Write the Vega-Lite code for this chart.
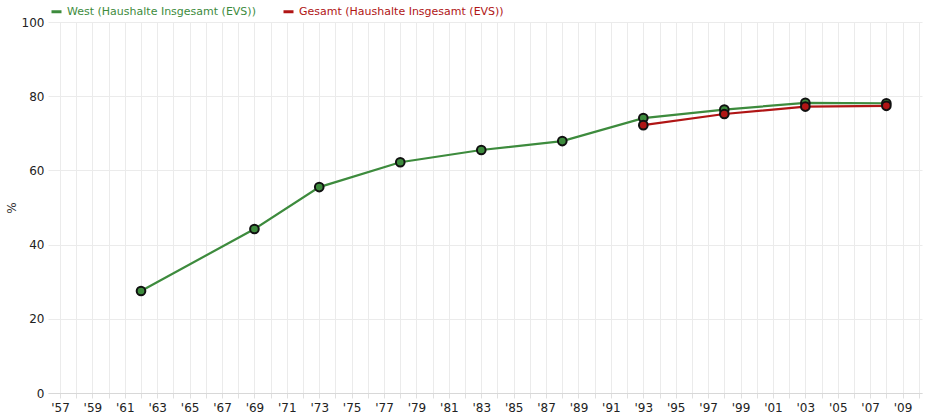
{
  "$schema": "https://vega.github.io/schema/vega-lite/v6.json",
  "autosize": "none",
  "width": 874,
  "height": 371,
  "padding": {"left": 48, "top": 22, "right": 12, "bottom": 22},
  "background": "white",
  "config": {
    "font": "DejaVu Sans",
    "view": {"stroke": null},
    "axis": {"labelFont": "DejaVu Sans", "labelFontSize": 12, "labelColor": "#222", "gridColor": "#ebebeb", "gridWidth": 1}
  },
  "data": {"values": [
    {"year": 1962, "series": "West (Haushalte Insgesamt (EVS))", "value": 27.5},
    {"year": 1969, "series": "West (Haushalte Insgesamt (EVS))", "value": 44.2},
    {"year": 1973, "series": "West (Haushalte Insgesamt (EVS))", "value": 55.5},
    {"year": 1978, "series": "West (Haushalte Insgesamt (EVS))", "value": 62.2},
    {"year": 1983, "series": "West (Haushalte Insgesamt (EVS))", "value": 65.5},
    {"year": 1988, "series": "West (Haushalte Insgesamt (EVS))", "value": 67.9},
    {"year": 1993, "series": "West (Haushalte Insgesamt (EVS))", "value": 74.1},
    {"year": 1998, "series": "West (Haushalte Insgesamt (EVS))", "value": 76.4},
    {"year": 2003, "series": "West (Haushalte Insgesamt (EVS))", "value": 78.2},
    {"year": 2008, "series": "West (Haushalte Insgesamt (EVS))", "value": 78.1},
    {"year": 1993, "series": "Gesamt (Haushalte Insgesamt (EVS))", "value": 72.2},
    {"year": 1998, "series": "Gesamt (Haushalte Insgesamt (EVS))", "value": 75.2},
    {"year": 2003, "series": "Gesamt (Haushalte Insgesamt (EVS))", "value": 77.2},
    {"year": 2008, "series": "Gesamt (Haushalte Insgesamt (EVS))", "value": 77.4}
  ]},
  "encoding": {
    "x": {
      "field": "year", "type": "quantitative",
      "scale": {"domain": [1956.26, 2010.2], "nice": false, "zero": false},
      "axis": {
        "title": null,
        "values": [1957,1958,1959,1960,1961,1962,1963,1964,1965,1966,1967,1968,1969,1970,1971,1972,1973,1974,1975,1976,1977,1978,1979,1980,1981,1982,1983,1984,1985,1986,1987,1988,1989,1990,1991,1992,1993,1994,1995,1996,1997,1998,1999,2000,2001,2002,2003,2004,2005,2006,2007,2008,2009,2010],
        "labelExpr": "datum.value % 2 == 1 ? \"'\" + slice(toString(datum.value), 2) : ''",
        "labelOverlap": false,
        "labelPadding": 4,
        "domainColor": "#d8d8d8",
        "ticks": true,
        "tickColor": "#e0e0e0",
        "tickSize": 5
      }
    },
    "y": {
      "field": "value", "type": "quantitative",
      "scale": {"domain": [0, 100], "nice": false},
      "axis": {"title": "%", "titleFontWeight": "normal", "titleFontSize": 12, "titleColor": "#333", "values": [0, 20, 40, 60, 80, 100], "domain": false, "ticks": false, "labelPadding": 4, "titlePadding": 3}
    },
    "color": {
      "field": "series", "type": "nominal",
      "scale": {"domain": ["West (Haushalte Insgesamt (EVS))", "Gesamt (Haushalte Insgesamt (EVS))"], "range": ["#3d8b3d", "#b01515"]},
      "legend": {
        "title": null, "orient": "none", "legendX": 2, "legendY": -17, "direction": "horizontal",
        "symbolType": "stroke", "symbolStrokeWidth": 3, "symbolSize": 100,
        "labelFontSize": 11, "labelFont": "DejaVu Sans", "labelLimit": 500, "columnPadding": 21, "symbolOffset": 0,
        "encode": {"labels": {"update": {"fill": {"scale": "color", "field": "value"}}}}
      }
    }
  },
  "layer": [
    {"mark": {"type": "line", "strokeWidth": 2.2}},
    {"mark": {"type": "point", "filled": true, "shape": "circle", "size": 75, "stroke": "#111", "strokeWidth": 2, "opacity": 1}}
  ]
}
